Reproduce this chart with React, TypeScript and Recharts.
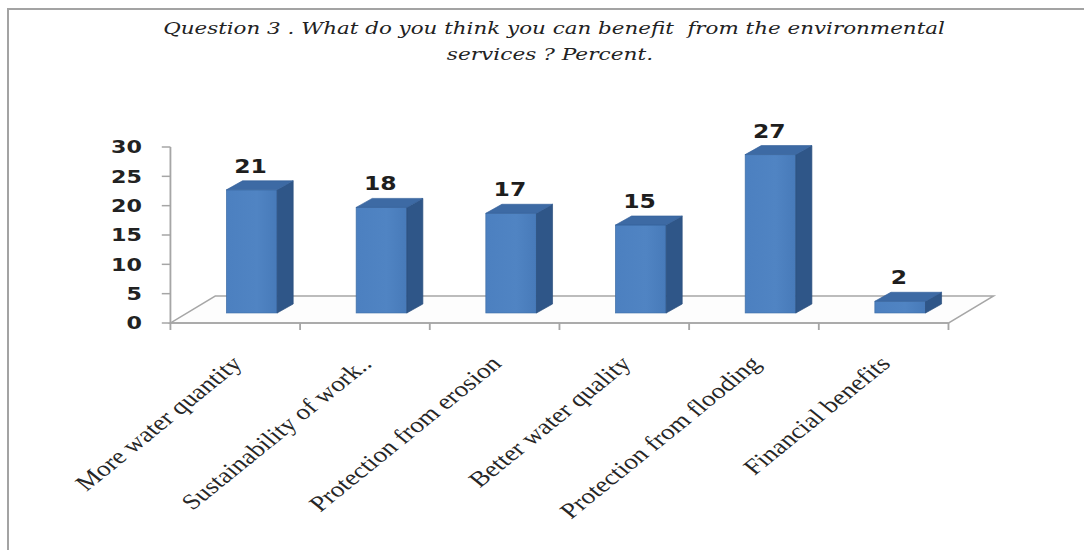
import React from "react";
import { BarChart, Bar, XAxis, YAxis, ReferenceArea, LabelList } from "recharts";

const categories = [
  "More water quantity",
  "Sustainability of work..",
  "Protection from erosion",
  "Better water quality",
  "Protection from flooding",
  "Financial benefits",
];
const percentValues = [21, 18, 17, 15, 27, 2];
const yTicks = [0, 5, 10, 15, 20, 25, 30];
const titleLines = [
  "Question 3 . What do you think you can benefit  from the environmental",
  "services ? Percent.",
];

const data = categories.map((name, i) => ({ name, value: percentValues[i] }));

const STRETCH = 1.235;
const W0 = 878;
const H = 550;
// 3D offsets (unstretched coordinates)
const BAR_DX = 13.4;
const BAR_DY = -10;
const SIDE_DX = 13;
const SIDE_DY = 9;
const FLOOR_DX = 36.4;
const FLOOR_DY = 27;

const Bar3D = (props: any) => {
  const { x, y, width, height } = props;
  if (width == null || height == null) return null;
  const fx = x + BAR_DX;
  const fy = y + BAR_DY;
  const w = width;
  const h = height;
  const top = `${fx},${fy} ${fx + SIDE_DX},${fy - SIDE_DY} ${fx + w + SIDE_DX},${fy - SIDE_DY} ${fx + w},${fy}`;
  const side = `${fx + w},${fy} ${fx + w + SIDE_DX},${fy - SIDE_DY} ${fx + w + SIDE_DX},${fy + h - SIDE_DY} ${fx + w},${fy + h}`;
  return (
    <g>
      <rect x={fx} y={fy} width={w} height={h} fill="url(#frontGrad)" stroke="#3f6fa8" strokeWidth={0.6} />
      <polygon points={side} fill="#2f5688" stroke="#2a4e7c" strokeWidth={0.6} />
      <polygon points={top} fill="#3d6aa4" stroke="#34609a" strokeWidth={0.6} />
    </g>
  );
};

const Floor = (props: any) => {
  const { x, y, width, height } = props;
  const by = y + height;
  const pts = `${x},${by} ${x + FLOOR_DX},${by - FLOOR_DY} ${x + width + FLOOR_DX},${by - FLOOR_DY} ${x + width},${by}`;
  const n = categories.length;
  const ticks = [];
  for (let i = 0; i <= n; i++) {
    const tx = x + (i * width) / n;
    ticks.push(<line key={i} x1={tx} y1={by} x2={tx} y2={by + 7} stroke="#a6a6a6" strokeWidth={1.5} />);
  }
  return (
    <g>
      <polygon points={pts} fill="#fdfdfd" stroke="#a6a6a6" strokeWidth={1.5} />
      {ticks}
    </g>
  );
};

const XTick = (props: any) => {
  const { x, y, payload } = props;
  const ax = x + 6.5;
  const ay = y + 42;
  return (
    <text
      x={ax}
      y={ay}
      textAnchor="end"
      transform={`rotate(-45, ${ax}, ${ay})`}
      fontFamily="'Liberation Serif', 'Times New Roman', serif"
      fontSize={22}
      fill="#262626"
    >
      {payload.value}
    </text>
  );
};

const ValueLabel = (props: any) => {
  const { x, y, width, value } = props;
  return (
    <text
      x={x + width / 2 + BAR_DX - 1}
      y={y + BAR_DY - 17}
      textAnchor="middle"
      fontFamily="'DejaVu Sans', sans-serif"
      fontWeight="bold"
      fontSize={19}
      fill="#1e1e1e"
    >
      {value}
    </text>
  );
};

export default function App() {
  return (
    <div style={{ position: "absolute", left: 0, top: 0, width: 1084, height: H, overflow: "hidden", background: "#fff" }}>
      <div
        style={{
          position: "absolute",
          left: 7,
          top: 8,
          width: 1200,
          height: 700,
          borderTop: "2px solid #a3a3a3",
          borderLeft: "2px solid #a3a3a3",
        }}
      />
      <div style={{ position: "absolute", left: 0, top: 0, width: W0, height: H, transform: `scaleX(${STRETCH})`, transformOrigin: "0 0" }}>
        <svg width={W0} height={80} style={{ position: "absolute", left: 0, top: 0 }}>
          <text
            x={448.6}
            y={34}
            textAnchor="middle"
            fontFamily="'DejaVu Serif', serif"
            fontStyle="italic"
            fontSize={17}
            fill="#222"
            textLength={633}
            lengthAdjust="spacingAndGlyphs"
            style={{ whiteSpace: "pre" }}
          >
            {titleLines[0]}
          </text>
          <text
            x={445.3}
            y={60}
            textAnchor="middle"
            fontFamily="'DejaVu Serif', serif"
            fontStyle="italic"
            fontSize={17}
            fill="#222"
            textLength={167}
            lengthAdjust="spacingAndGlyphs"
          >
            {titleLines[1]}
          </text>
        </svg>
        <div style={{ position: "absolute", left: 0, top: 0 }}>
          <BarChart width={W0} height={H} data={data} margin={{ top: 147, right: 110, bottom: 27, left: 78 }}>
            <defs>
              <linearGradient id="frontGrad" x1="0" y1="0" x2="1" y2="0">
                <stop offset="0%" stopColor="#4c80c0" />
                <stop offset="60%" stopColor="#5084c3" />
                <stop offset="100%" stopColor="#477ab9" />
              </linearGradient>
            </defs>
            <ReferenceArea y1={0} y2={30} shape={Floor} ifOverflow="visible" />
            <XAxis
              dataKey="name"
              height={200}
              interval={0}
              tickLine={false}
              tickSize={0}
              tickMargin={0}
              axisLine={{ stroke: "#a6a6a6", strokeWidth: 1.5 }}
              tick={<XTick />}
            />
            <YAxis
              width={60}
              domain={[0, 30]}
              ticks={yTicks}
              interval={0}
              tickSize={7}
              tickMargin={16}
              axisLine={{ stroke: "#a6a6a6", strokeWidth: 1.5 }}
              tickLine={{ stroke: "#a6a6a6", strokeWidth: 1.5 }}
              tick={{ fontFamily: "'DejaVu Sans', sans-serif", fontWeight: "bold", fontSize: 18, fill: "#222" }}
            />
            <Bar dataKey="value" barSize={41} isAnimationActive={false} shape={<Bar3D />}>
              <LabelList dataKey="value" content={<ValueLabel />} />
            </Bar>
          </BarChart>
        </div>
      </div>
    </div>
  );
}
